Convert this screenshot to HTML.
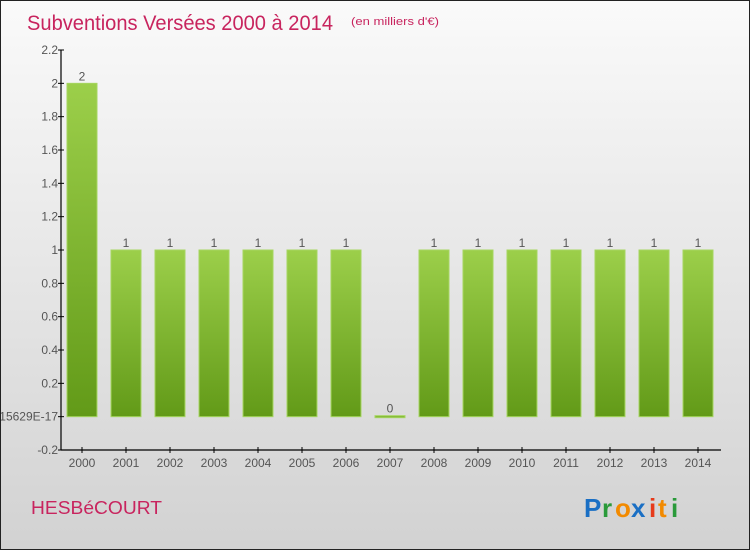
<!DOCTYPE html>
<html><head><meta charset="utf-8"><style>
html,body{margin:0;padding:0}
body{width:750px;height:550px;overflow:hidden;font-family:"Liberation Sans",sans-serif}
#wrap{position:relative;width:748px;height:548px;border:1px solid #222;background:linear-gradient(#fafafa,#d2d2d2)}
</style></head><body>
<div id="wrap">
<svg width="748" height="548">
<defs><linearGradient id="bg" x1="0" y1="0" x2="0" y2="1"><stop offset="0" stop-color="#9ccf4a"/><stop offset="1" stop-color="#629a18"/></linearGradient></defs>
<text x="26" y="29" font-size="21" textLength="306" lengthAdjust="spacingAndGlyphs" fill="#c8245e">Subventions Versées 2000 à 2014</text>
<text x="350" y="24" font-size="11" textLength="88" lengthAdjust="spacingAndGlyphs" fill="#c8245e">(en milliers d'€)</text>
<text x="30" y="513" font-size="18" textLength="131" lengthAdjust="spacingAndGlyphs" fill="#c8245e">HESBéCOURT</text>
<g font-size="26" font-weight="bold">
<text x="583" y="516" fill="#1a6fc4">P</text><text x="601" y="516" fill="#2a9a3a">r</text><text x="614" y="516" fill="#f28a00">o</text><text x="630" y="516" fill="#1a6fc4">x</text><text x="648" y="516" fill="#e63a1a">i</text><text x="657" y="516" fill="#f28a00">t</text><text x="670" y="516" fill="#2a9a3a">i</text>
</g>
<g id="axes"></g><g id="bars"></g>
</svg></div>
<script>
const years=["2000","2001","2002","2003","2004","2005","2006","2007","2008","2009","2010","2011","2012","2013","2014"];
const values=[2,1,1,1,1,1,1,0,1,1,1,1,1,1,1];
const labels=["2","1","1","1","1","1","1","0","1","1","1","1","1","1","1"];
const ticks=[-0.2,0,0.2,0.4,0.6,0.8,1,1.2,1.4,1.6,1.8,2,2.2];
const tickLabels=["-0.2","5.5511151215629E-17","0.2","0.4","0.6","0.8","1","1.2","1.4","1.6","1.8","2","2.2"];
const NS="http://www.w3.org/2000/svg";
const y0=449,y1=49,vmin=-0.2,vmax=2.2;
const Y=v=>y0-(v-vmin)/(vmax-vmin)*(y0-y1);
const X=i=>81+i*44;
function el(t,a,p){const e=document.createElementNS(NS,t);for(const k in a)e.setAttribute(k,a[k]);p.appendChild(e);return e;}
const ax=document.getElementById('axes'),bs=document.getElementById('bars');
const yl=el('line',{x1:60,y1:Y(vmax),x2:60,y2:Y(vmin),stroke:'#000','stroke-width':1.2},ax);


const xl=el('line',{x1:60,y1:y0,x2:720,y2:y0,stroke:'#000','stroke-width':1.2},ax);


ticks.forEach((v,i)=>{
 el('line',{x1:57,x2:63,y1:Y(v),y2:Y(v),stroke:'#000'},ax);
 const t=el('text',{x:57,y:Y(v)+4,'font-size':12,fill:'#555','text-anchor':'end'},ax);
 t.textContent=tickLabels[i];
 
 
});
years.forEach((yr,i)=>{
 const x=X(i);
 el('line',{x1:x,x2:x,y1:y0-3,y2:y0+3,stroke:'#000'},ax);
 const t=el('text',{x:x,y:466,'font-size':12,fill:'#555','text-anchor':'middle'},ax);
 t.textContent=yr;
 
 
 const v=values[i];
 const top=Math.min(Y(v),Y(0)-1),h=Math.max(Math.abs(Y(0)-Y(v)),2);
 const r=el('rect',{x:x-15,y:top,width:30,height:h,fill:'url(#bg)',stroke:'#a6d660','stroke-width':1},bs);
 
 
 const l=el('text',{x:x,y:top-3,'font-size':12,fill:'#555','text-anchor':'middle'},bs);
 l.textContent=labels[i];
 
 
});
</script>
</body></html>
